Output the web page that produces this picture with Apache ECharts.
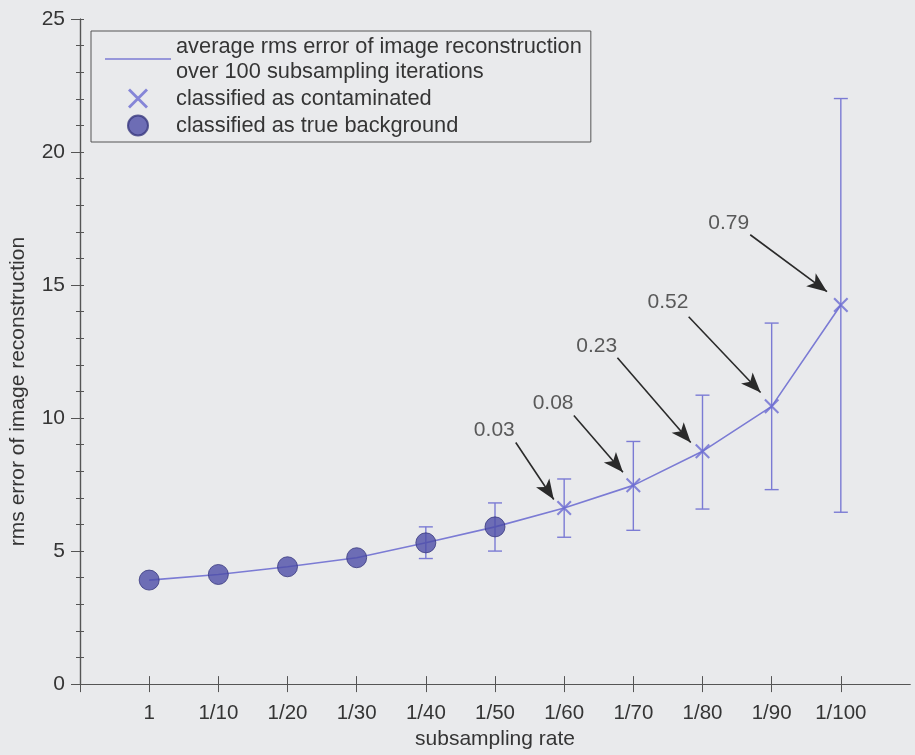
<!DOCTYPE html>
<html>
<head>
<meta charset="utf-8">
<script src="https://cdn.jsdelivr.net/npm/echarts@6/dist/echarts.min.js"></script>
<style>
html,body{margin:0;padding:0;background:#e9eaec;}
#chart{width:915px;height:755px;}
</style>
</head>
<body>
<div id="chart"></div>
<script>
// ---- data ----
const categories = ['1','1/10','1/20','1/30','1/40','1/50','1/60','1/70','1/80','1/90','1/100'];
const rmsMean   = [3.91, 4.12, 4.41, 4.75, 5.31, 5.91, 6.62, 7.47, 8.75, 10.44, 14.25];
const errLow    = [null, null, null, null, 4.72, 5.00, 5.52, 5.78, 6.58, 7.31, 6.46];
const errHigh   = [null, null, null, null, 5.91, 6.81, 7.71, 9.12, 10.86, 13.57, 22.01];
const classes   = ['bg','bg','bg','bg','bg','bg','cont','cont','cont','cont','cont'];
const yTicks    = [0, 5, 10, 15, 20, 25];
// annotations: contamination fractions, text position and arrow (data coordinates)
const annoText  = ['0.03','0.08','0.23','0.52','0.79'];
const annoTextAt = [[5.99,9.53],[6.84,10.55],[7.47,12.69],[8.50,14.34],[9.38,17.34]];
const annoFrom  = [[6.30,9.08],[7.14,10.10],[7.77,12.27],[8.80,13.81],[9.69,16.89]];
const annoTo    = [[6.85,6.94],[7.85,7.96],[8.83,9.08],[9.84,10.96],[10.80,14.75]];

const NAME_LINE = 'average rms error of image reconstruction\nover 100 subsampling iterations';
const NAME_CONT = 'classified as contaminated';
const NAME_BG = 'classified as true background';

const FONT = 'Liberation Sans, Arial, Helvetica, sans-serif';
const TXT = '#353535';
const AX = '#555';
const LINE_C = '#7b7bd4';
const XPATH = 'path://M0,1L1,0L10,9L9,10Z M9,0L10,1L1,10L0,9Z';
const LINEICON = 'path://M0,0H100V2H0Z';

const xIdx = categories.map((c, i) => i + 1);
const lineData = rmsMean.map((v, i) => [i + 1, v]);
const bgData = rmsMean.map((v, i) => classes[i] === 'bg' ? [i + 1, v] : null).filter(Boolean);
const contData = rmsMean.map((v, i) => classes[i] === 'cont' ? [i + 1, v] : null).filter(Boolean);
const errData = errLow.map((lo, i) => lo == null ? null : [i + 1, lo, errHigh[i]]).filter(Boolean);
const annoLabelData = annoText.map((t, i) => ({ value: annoTextAt[i], name: t }));
const arrowData = annoFrom.map((f, i) => [{ coord: f }, { coord: annoTo[i] }]);

const chart = echarts.init(document.getElementById('chart'), null, { renderer: 'canvas' });

const tickVals = [0].concat(xIdx);

chart.setOption({
  backgroundColor: '#e9eaec',
  animation: false,
  textStyle: { fontFamily: FONT, color: TXT },
  grid: { left: 78, right: 5, top: 19, bottom: 70, containLabel: false },
  legend: {
    left: 91, top: 31,
    orient: 'vertical',
    itemWidth: 66, itemHeight: 20, itemGap: 2,
    padding: [3, 9, 4, 14],
    borderColor: '#555', borderWidth: 1,
    textStyle: { fontFamily: FONT, fontSize: 21.8, color: TXT, lineHeight: 25 },
    selectedMode: false,
    data: [
      { name: NAME_LINE, icon: LINEICON, itemStyle: { color: LINE_C } },
      { name: NAME_CONT, icon: XPATH },
      { name: NAME_BG, icon: 'circle' }
    ]
  },
  xAxis: [{
    type: 'value', min: 0, max: 12, interval: 1,
    name: 'subsampling rate', nameLocation: 'middle', nameGap: 44,
    nameTextStyle: { fontFamily: FONT, fontSize: 21, color: TXT },
    axisLine: { show: true, lineStyle: { color: AX, width: 1.2 } },
    axisTick: { show: true, inside: false, length: 8, lineStyle: { color: AX }, customValues: tickVals },
    axisLabel: { show: true, margin: 19, fontFamily: FONT, fontSize: 20.5, color: TXT,
      customValues: xIdx, formatter: v => categories[v - 1] || '' },
    splitLine: { show: false }
  }, {
    type: 'value', min: 0, max: 12, interval: 1, position: 'top',
    axisLine: { show: true, lineStyle: { color: AX, width: 1.2 } },
    axisTick: { show: true, inside: false, length: 8, lineStyle: { color: AX }, customValues: tickVals },
    axisLabel: { show: false },
    splitLine: { show: false }
  }],
  yAxis: [{
    type: 'value', min: 0, max: 25, interval: 5,
    name: 'rms error of image reconstruction', nameLocation: 'middle', nameGap: 51,
    nameTextStyle: { fontFamily: FONT, fontSize: 21, color: TXT, padding: [0, 80, 0, 0] },
    axisLine: { show: true, lineStyle: { color: AX, width: 1.2 } },
    axisTick: { show: true, inside: false, length: 9, lineStyle: { color: AX } },
    minorTick: { show: true, splitNumber: 5, length: 4, lineStyle: { color: AX } },
    axisLabel: { show: true, margin: 15, fontFamily: FONT, fontSize: 21, color: TXT,
      customValues: yTicks },
    splitLine: { show: false }, minorSplitLine: { show: false }
  }, {
    type: 'value', min: 0, max: 25, interval: 1, position: 'right',
    axisLine: { show: true, lineStyle: { color: AX, width: 1.2 } },
    axisTick: { show: true, inside: false, length: 4, lineStyle: { color: AX } },
    axisLabel: { show: false },
    splitLine: { show: false }
  }],
  series: [
    {
      name: NAME_LINE, type: 'line', data: lineData, symbol: 'none',
      lineStyle: { color: LINE_C, width: 1.6 }, itemStyle: { color: LINE_C }, z: 2,
      markLine: {
        silent: true, symbol: ['none', 'arrow'], symbolSize: [12, 20],
        lineStyle: { color: '#2a2a2a', width: 1.6, type: 'solid' },
        itemStyle: { color: '#1a1a1a' },
        label: { show: false },
        data: arrowData
      }
    },
    {
      name: 'errorbars', type: 'custom', data: errData, z: 3, silent: true,
      renderItem: function (params, api) {
        const x = api.value(0);
        const lo = api.coord([x, api.value(1)]);
        const hi = api.coord([x, api.value(2)]);
        const hw = 7;
        const st = { stroke: LINE_C, lineWidth: 1.4 };
        return { type: 'group', children: [
          { type: 'line', shape: { x1: lo[0], y1: lo[1], x2: hi[0], y2: hi[1] }, style: st },
          { type: 'line', shape: { x1: hi[0] - hw, y1: hi[1], x2: hi[0] + hw, y2: hi[1] }, style: st },
          { type: 'line', shape: { x1: lo[0] - hw, y1: lo[1], x2: lo[0] + hw, y2: lo[1] }, style: st }
        ]};
      }
    },
    {
      name: NAME_CONT, type: 'scatter', data: contData, symbol: XPATH, symbolSize: 15,
      itemStyle: { color: '#6b6bd2' }, z: 4
    },
    {
      name: NAME_BG, type: 'scatter', data: bgData, symbol: 'circle', symbolSize: 20,
      itemStyle: { color: '#4d4da8', borderColor: '#38387e', borderWidth: 1 }, z: 5
    },
    {
      name: 'annotations', type: 'scatter', data: annoLabelData, symbolSize: 0, silent: true,
      label: { show: true, position: 'inside', formatter: p => p.name,
        fontFamily: FONT, fontSize: 21, color: TXT }, z: 6
    }
  ]
});
</script>
</body>
</html>
